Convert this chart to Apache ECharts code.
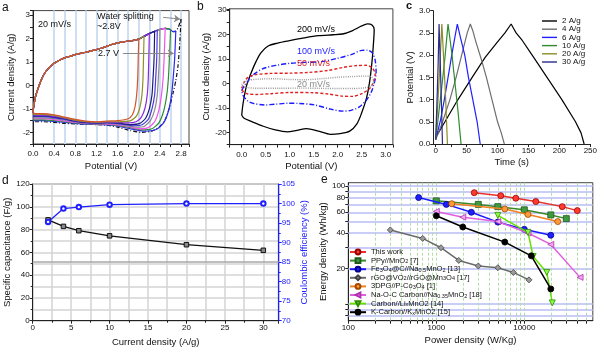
<!DOCTYPE html>
<html><head><meta charset="utf-8">
<script src="https://cdn.jsdelivr.net/npm/echarts@6/dist/echarts.min.js"></script>
<style>html,body{margin:0;padding:0;background:#fff}#c{width:600px;height:349px}</style>
</head><body><div id="c"></div><script>
// ---------- (a) CV at 20 mV/s, increasing upper potential ----------
// shared anodic sweep (all windows overlap here)
const cvUpper = [[0,-1.15],[0.02,-0.8],[0.05,-0.45],[0.1,-0.1],[0.15,0.2],[0.2,0.45],[0.3,0.75],[0.4,0.95],[0.5,1.08],[0.6,1.18],[0.7,1.25],[0.8,1.32],[0.9,1.37],[1.0,1.42],[1.1,1.48],[1.2,1.53],[1.3,1.6],[1.4,1.68],[1.5,1.76],[1.6,1.82],[1.7,1.86],[1.8,1.9],[1.9,1.93],[2.0,1.98],[2.1,2.1],[2.2,2.22],[2.3,2.32],[2.35,2.36],[2.4,2.4],[2.5,2.44],[2.6,2.38],[2.65,2.3],[2.7,2.32],[2.75,2.5],[2.8,2.86]];
// cathodic return sweeps, one per upper potential
const cvRet20 = [[2.0,1.98],[1.99,1.2],[1.98,0.3],[1.96,-0.4],[1.93,-0.9],[1.88,-1.25],[1.8,-1.42],[1.6,-1.5],[1.4,-1.52],[1.2,-1.55],[1.0,-1.52],[0.8,-1.45],[0.6,-1.35],[0.4,-1.25],[0.2,-1.2],[0.05,-1.2],[0,-1.18]];
const cvRet21 = [[2.1,2.1],[2.09,1.2],[2.08,0.3],[2.06,-0.4],[2.02,-0.95],[1.96,-1.3],[1.85,-1.5],[1.6,-1.55],[1.4,-1.55],[1.2,-1.57],[1.0,-1.55],[0.8,-1.48],[0.6,-1.38],[0.4,-1.28],[0.2,-1.23],[0.05,-1.23],[0,-1.22]];
const cvRet22 = [[2.2,2.22],[2.19,1.2],[2.18,0.3],[2.16,-0.4],[2.12,-0.95],[2.05,-1.35],[1.95,-1.55],[1.8,-1.6],[1.6,-1.58],[1.4,-1.57],[1.2,-1.58],[1.0,-1.56],[0.8,-1.5],[0.6,-1.4],[0.4,-1.32],[0.2,-1.27],[0.05,-1.27],[0,-1.26]];
const cvRet23 = [[2.3,2.32],[2.29,1.2],[2.27,0.3],[2.25,-0.4],[2.2,-1.0],[2.13,-1.4],[2.02,-1.62],[1.85,-1.67],[1.6,-1.6],[1.4,-1.58],[1.2,-1.6],[1.0,-1.58],[0.8,-1.52],[0.6,-1.42],[0.4,-1.35],[0.2,-1.3],[0.05,-1.3],[0,-1.3]];
const cvRet235 = [[2.35,2.36],[2.34,1.2],[2.32,0.3],[2.3,-0.4],[2.25,-1.0],[2.18,-1.45],[2.06,-1.68],[1.9,-1.72],[1.7,-1.65],[1.4,-1.6],[1.2,-1.61],[1.0,-1.6],[0.8,-1.54],[0.6,-1.45],[0.4,-1.38],[0.2,-1.33],[0.05,-1.33],[0,-1.33]];
const cvRet24 = [[2.4,2.4],[2.39,1.2],[2.37,0.3],[2.35,-0.4],[2.3,-1.05],[2.22,-1.5],[2.1,-1.75],[1.95,-1.78],[1.7,-1.68],[1.4,-1.62],[1.2,-1.63],[1.0,-1.61],[0.8,-1.56],[0.6,-1.48],[0.4,-1.42],[0.2,-1.38],[0.05,-1.38],[0,-1.38]];
const cvRet25 = [[2.5,2.44],[2.48,1.2],[2.46,0.3],[2.43,-0.4],[2.38,-1.05],[2.3,-1.55],[2.18,-1.8],[2.0,-1.85],[1.8,-1.75],[1.5,-1.66],[1.2,-1.64],[1.0,-1.62],[0.8,-1.58],[0.6,-1.52],[0.4,-1.46],[0.2,-1.42],[0.05,-1.42],[0,-1.42]];
const cvRet26 = [[2.6,2.38],[2.58,1.2],[2.56,0.3],[2.53,-0.4],[2.47,-1.1],[2.38,-1.6],[2.25,-1.85],[2.05,-1.9],[1.8,-1.78],[1.5,-1.68],[1.2,-1.65],[1.0,-1.63],[0.8,-1.6],[0.6,-1.55],[0.4,-1.5],[0.2,-1.47],[0.05,-1.47],[0,-1.47]];
const cvRet27 = [[2.7,2.32],[2.68,1.2],[2.65,0.3],[2.62,-0.4],[2.56,-1.1],[2.47,-1.6],[2.33,-1.88],[2.1,-1.95],[1.85,-1.85],[1.5,-1.7],[1.2,-1.66],[1.0,-1.65],[0.8,-1.62],[0.6,-1.58],[0.4,-1.53],[0.2,-1.5],[0.05,-1.5],[0,-1.5]];
const cvRet28 = [[2.8,2.86],[2.77,1.6],[2.74,0.8],[2.7,0.2],[2.65,-0.3],[2.58,-0.95],[2.5,-1.45],[2.4,-1.75],[2.25,-1.95],[2.05,-2.0],[1.85,-1.93],[1.6,-1.78],[1.4,-1.7],[1.2,-1.67],[1.0,-1.66],[0.8,-1.64],[0.6,-1.62],[0.4,-1.58],[0.2,-1.55],[0.05,-1.55],[0,-1.55]];
const cvEnds = [2.8, 2.7, 2.6, 2.5, 2.4, 2.35, 2.3, 2.2, 2.1, 2.0];
const cvReturns = [cvRet28, cvRet27, cvRet26, cvRet25, cvRet24, cvRet235, cvRet23, cvRet22, cvRet21, cvRet20];
const cvColors = ['#111111', '#2a2af0', '#2e8b2e', '#f050f0', '#8a8a8a', '#4a38e0', '#1a1a78', '#8b2be0', '#8f8f26', '#d4552a'];
const cvGuides = [0.4, 0.6, 0.8, 1.0, 1.2, 1.4, 1.6, 1.8, 2.0, 2.2, 2.4, 2.6, 2.8];

// ---------- (b) CV at different scan rates ----------
const cv200 = [[0,-13],[0.03,-8],[0.1,-1],[0.2,4.5],[0.3,9],[0.4,12.5],[0.55,15.3],[0.75,16.5],[1.0,17.5],[1.3,18.6],[1.6,19.5],[1.9,19.9],[2.1,20.2],[2.3,21.5],[2.5,23.5],[2.62,24.3],[2.72,23.8],[2.76,22],[2.74,15],[2.71,8],[2.66,0],[2.6,-6],[2.5,-12],[2.4,-16.5],[2.25,-19.5],[2.05,-20.5],[1.85,-20.8],[1.6,-19.5],[1.35,-18.5],[1.15,-19.2],[0.95,-19.8],[0.7,-19],[0.45,-17.5],[0.2,-15.5],[0.05,-14.2],[0,-13]];
const cv100 = [[0,-3],[0.05,-1],[0.13,1],[0.27,4],[0.48,6.3],[0.75,7.5],[1.0,8.2],[1.3,8.6],[1.66,8.9],[2.0,10.3],[2.28,11.8],[2.5,13.5],[2.62,13.6],[2.72,12.5],[2.78,9.5],[2.8,4.5],[2.76,0],[2.7,-3.5],[2.6,-6.8],[2.45,-9.6],[2.28,-11],[2.1,-11.3],[1.85,-10.5],[1.52,-8.8],[1.2,-8.2],[0.96,-8.1],[0.7,-8.5],[0.48,-8.8],[0.25,-8.2],[0.13,-7.2],[0.03,-5],[0,-3]];
const cv50 = [[0,-2],[0.05,0.5],[0.13,2.5],[0.3,3.6],[0.6,4.1],[1.0,4.2],[1.4,4.5],[1.8,5.3],[2.1,6.5],[2.4,7.3],[2.6,7.4],[2.72,6.3],[2.78,4],[2.76,1.5],[2.68,-1.8],[2.5,-4.2],[2.3,-5.3],[2.1,-5.2],[1.8,-4.3],[1.5,-3.8],[1.0,-3.7],[0.6,-4.2],[0.3,-4.5],[0.13,-4.3],[0.03,-3.3],[0,-2]];
const cv20 = [[0,-0.5],[0.05,0.6],[0.13,1.3],[0.4,1.8],[0.7,1.9],[1.0,1.6],[1.3,1.5],[1.7,2.0],[2.0,2.5],[2.3,2.8],[2.55,3.0],[2.7,2.7],[2.75,1],[2.7,-1],[2.55,-1.8],[2.3,-2.1],[2.0,-2.1],[1.6,-2.0],[1.2,-1.9],[0.8,-2.0],[0.4,-2.0],[0.15,-1.8],[0.03,-1.3],[0,-0.5]];

// ---------- (c) galvanostatic charge/discharge ----------
const gcd2 = [[0,0.15],[15,0.5],[36,1.0],[59,1.5],[80,1.95],[100,2.3],[112,2.5],[122,2.7],[126,2.6],[130,2.5],[140,2.33],[156,2.0],[180,1.5],[204,1.0],[226,0.5],[235,0.25],[240,0]];
const gcd4 = [[0,0.1],[10,0.45],[23,1.0],[33,1.5],[42,2.0],[51,2.5],[56,2.7],[60,2.55],[65,2.3],[75,1.85],[82,1.5],[91,1.0],[100,0.5],[106,0.25],[111,0]];
const gcd6 = [[0,0.1],[8,0.55],[14,1.0],[20,1.5],[26,2.0],[31,2.4],[35,2.7],[40,2.4],[47,2.0],[53,1.5],[60,1.0],[67,0.5],[72,0]];
const gcd10 = [[0,0.1],[5,0.7],[10,1.3],[15,1.95],[20,2.7],[26,2.05],[31,1.4],[36,0.75],[41,0]];
const gcd20 = [[0,0.1],[3,0.8],[6,1.55],[10,2.7],[13,1.9],[16,1.05],[19,0]];
const gcd30 = [[0,0.1],[2,0.9],[4,1.8],[5.5,2.7],[7.5,1.8],[9.5,0.8],[11,0]];
const gcdNames = ['2 A/g', '4 A/g', '6 A/g', '10 A/g', '20 A/g', '30 A/g'];
const gcdColors = ['#000000', '#6e6e6e', '#1f1fff', '#2e8b2e', '#8c8c28', '#2a2a8c'];

// ---------- (d) rate capability ----------
const rateCurrent = [2, 4, 6, 10, 20, 30];
const rateCapacitance = [88.5, 82.8, 79, 74.5, 66.7, 61.8];
const rateCoulombic = [95.3, 98.7, 99.1, 99.7, 100, 100];

// ---------- (e) Ragone plot ----------
const ragoneNames = ['This work', 'PPy//MnO2 [7]', 'Fe3O4@C//Na0.5MnO2 [13]', 'rGO@VO2//rGO@Mn3O4 [17]', '3DPG//P-Co3O4 [1]', 'Na-O-C Carbon//Na0.35MnO2 [18]', 'Carbon//LixMnO2 [14]', 'K-Carbon//KxMnO2 [15]'];
const ragoneLabels = ['This work', 'PPy//MnO{s|2} [7]', 'Fe{s|3}O{s|4}@C//Na{s|0.5}MnO{s|2} [13]', 'rGO@VO{s|2}//rGO@Mn{s|3}O{s|4} [17]', '3DPG//P-Co{s|3}O{s|4} [1]', 'Na-O-C Carbon//Na{s|0.35}MnO{s|2} [18]', 'Carbon//Li{s|x}MnO2 [14]', 'K-Carbon//K{s|x}MnO2 [15]'];
const rgThisWork = [[2700,88],[5400,83],[8000,79],[13500,74],[27000,67],[40000,62]];
const rgPPy = [[1000,75],[3000,70],[5000,67],[10000,63],[20000,57],[30000,53]];
const rgFe3O4 = [[630,80],[1300,70],[2500,60],[5000,49.5],[10000,43],[20000,38.3]];
const rgRGO = [[300,42.5],[700,36],[1130,30],[1800,23.4],[3000,21],[5000,20.3],[7500,18.5],[11300,16]];
const rg3DPG = [[1500,71],[6000,64],[11000,57.5],[24000,50]];
const rgNaOC = [[1000,61],[2000,54.5],[5000,50],[11000,40],[20000,32],[43000,16.8]];
const rgLiMn = [[5000,56.5],[11000,40.5],[12600,25.3],[18000,18.5],[20800,10.2]];
const rgKMn = [[1000,56],[2000,45],[6000,33.5],[12000,25.6],[20000,13.4]];
const ragoneData = [rgThisWork, rgPPy, rgFe3O4, rgRGO, rg3DPG, rgNaOC, rgLiMn, rgKMn];
const ragoneStyle = [
  {line:'#e8302a', fill:'#ff3b30', edge:'#9a0000', symbol:'circle', rot:0},
  {line:'#3a8a2a', fill:'#3f9a3f', edge:'#1d5a1d', symbol:'rect', rot:0},
  {line:'#1a1aff', fill:'#2020ff', edge:'#00008b', symbol:'circle', rot:0},
  {line:'#6a6a6a', fill:'#9a9a9a', edge:'#404040', symbol:'diamond', rot:0},
  {line:'#f08020', fill:'#ff9a3a', edge:'#a04a00', symbol:'circle', rot:0},
  {line:'#e060e0', fill:'#f0a8f0', edge:'#b030b0', symbol:'triangle', rot:90},
  {line:'#66e000', fill:'#88ff44', edge:'#2f8a00', symbol:'triangle', rot:180},
  {line:'#000000', fill:'#000000', edge:'#000000', symbol:'circle', rot:0}
];
const ragoneHLines = [8, 9, 10, 20, 30, 40, 50, 60, 70, 80, 90, 100];
const ragoneVLines = [200, 300, 400, 500, 600, 700, 800, 900, 1000, 2000, 3000, 4000, 5000, 6000, 7000, 8000, 9000, 10000, 20000, 30000, 40000, 50000];

const FONT = '"Liberation Sans", Arial, Helvetica, sans-serif';
const near = (v, step) => Math.abs(v / step - Math.round(v / step)) < 1e-6;

function axis(extra) {
  const base = {
    type: 'value',
    axisLine: {show: true, onZero: false, lineStyle: {color: '#222', width: 1}},
    axisTick: {show: true, inside: false, length: 3, lineStyle: {color: '#222'}},
    axisLabel: {fontSize: 8, color: '#111', margin: 3, fontFamily: FONT},
    splitLine: {show: false},
    nameLocation: 'middle',
    nameTextStyle: {fontSize: 9.5, color: '#111', fontFamily: FONT}
  };
  const out = Object.assign({}, base, extra);
  ['axisLine', 'axisTick', 'axisLabel', 'nameTextStyle'].forEach(k => {
    if (extra[k]) out[k] = Object.assign({}, base[k], extra[k]);
  });
  return out;
}

const grids = [
  {left: 33, top: 10.6, width: 156, height: 133.4},      // a
  {left: 229.7, top: 8.8, width: 163.2, height: 135.8},  // b
  {left: 433.2, top: 10.7, width: 158.5, height: 133.3}, // c
  {left: 32.7, top: 184, width: 246, height: 136.7},     // d
  {left: 348.3, top: 182.7, width: 244.5, height: 138}   // e
].map((g, i) => Object.assign({show: i !== 2, borderColor: '#444', borderWidth: 1, backgroundColor: 'transparent'}, g));

const xAxes = [
  axis({gridIndex: 0, min: 0, max: 2.95, interval: 0.2, name: 'Potential (V)', nameGap: 17,
        axisLabel: {margin: 6, formatter: v => near(v, 0.4) ? v.toFixed(1) : ''}}),
  axis({gridIndex: 1, min: -0.25, max: 3.15, interval: 0.25, name: 'Potential (V)', nameGap: 17,
        axisLabel: {margin: 6, formatter: v => (v >= 0 && near(v, 0.5)) ? v.toFixed(1) : ''}}),
  axis({gridIndex: 2, min: -4, max: 250, name: 'Time (s)', nameGap: 13,
        axisLabel: {customValues: [0, 50, 100, 150, 200, 250]},
        axisTick: {customValues: [0, 25, 50, 75, 100, 125, 150, 175, 200, 225, 250]}}),
  axis({gridIndex: 3, min: 0, max: 32, interval: 5, name: 'Current density (A/g)', nameGap: 17,
        axisLabel: {formatter: v => near(v, 5) ? String(v) : ''},
        minorTick: {show: true, splitNumber: 2, length: 2, lineStyle: {color: '#222'}},
        splitLine: {show: true, lineStyle: {color: '#d4d4d4', width: 1.5}},
        minorSplitLine: {show: true, lineStyle: {color: '#d4d4d4', width: 1.5}}}),
  axis({gridIndex: 4, type: 'log', logBase: 10, min: 100, max: 60000, name: 'Power density (W/Kg)', nameGap: 15,
        axisLabel: {customValues: [100, 1000, 10000], formatter: v => String(Math.round(v))},
        axisTick: {customValues: [100, 200, 300, 400, 500, 600, 700, 800, 900, 1000, 2000, 3000, 4000, 5000, 6000, 7000, 8000, 9000, 10000, 20000, 30000, 40000, 50000]}})
];

const yAxes = [
  axis({gridIndex: 0, min: -2.5, max: 3.2, interval: 0.5, name: 'Current density (A/g)', nameGap: 17,
        axisLabel: {formatter: v => near(v, 1) ? String(Math.round(v)) : ''}}),
  axis({gridIndex: 1, min: -25, max: 30.5, interval: 5, name: 'Current density (A/g)', nameGap: 15,
        axisLabel: {formatter: v => near(v, 10) ? String(Math.round(v)) : ''}}),
  axis({gridIndex: 2, min: 0, max: 3, interval: 0.5, name: 'Potential (V)', nameGap: 18,
        axisLabel: {formatter: v => v.toFixed(1)}}),
  axis({gridIndex: 3, min: 0, max: 120, interval: 20, name: 'Specific capacitance (F/g)', nameGap: 19,
        minorTick: {show: true, splitNumber: 2, length: 2, lineStyle: {color: '#222'}},
        splitLine: {show: true, lineStyle: {color: '#d4d4d4', width: 1.5}},
        minorSplitLine: {show: true, lineStyle: {color: '#d4d4d4', width: 1.5}}}),
  axis({gridIndex: 3, position: 'right', min: 70, max: 105, interval: 5, name: 'Coulombic efficiency (%)', nameGap: 18, nameRotate: 90,
        axisLine: {lineStyle: {color: '#2020ff', width: 1.2}},
        axisTick: {lineStyle: {color: '#2020ff'}},
        axisLabel: {color: '#2020ff'},
        minorTick: {show: true, splitNumber: 2, length: 2, lineStyle: {color: '#2020ff'}},
        nameTextStyle: {color: '#2020ff'}}),
  axis({gridIndex: 4, type: 'log', logBase: 10, min: 7.2, max: 107, name: 'Energy density (Wh/kg)', nameGap: 19,
        axisLabel: {customValues: [20, 40, 60, 80, 100], formatter: v => String(Math.round(v))},
        axisTick: {customValues: [8, 9, 10, 20, 30, 40, 50, 60, 70, 80, 90, 100]}})
];

const series = [];

// (a) guide lines and CV loops
series.push({
  type: 'line', xAxisIndex: 0, yAxisIndex: 0, data: [], silent: true,
  markLine: {silent: true, z: 1, symbol: ['none', 'none'], label: {show: false},
    lineStyle: {color: '#cfdff3', width: 2, type: 'solid'},
    data: cvGuides.map(v => ({xAxis: v}))}
});
cvEnds.forEach((end, i) => {
  const up = cvUpper.filter(p => p[0] < end - 1e-9);
  series.push({
    type: 'line', name: 'CV ' + end + ' V', xAxisIndex: 0, yAxisIndex: 0,
    data: up.concat(cvReturns[i]), showSymbol: false, symbol: 'none', smooth: 0.2,
    lineStyle: {color: cvColors[i], width: 1.2, type: i === 0 ? [4, 2, 1, 2] : 'solid'},
    z: 2 + i,
    markLine: i === 0 ? {silent: true, z: 20, symbol: ['none', 'arrow'], symbolSize: 6, label: {show: false},
      lineStyle: {color: '#8a8a8a', width: 1, type: 'solid'},
      data: [[{coord: [2.46, 2.91]}, {coord: [2.78, 2.84]}], [{coord: [1.7, 1.38]}, {coord: [2.66, 1.38]}]]} : undefined
  });
});

// (b)
[[cv200, '#000000', 'solid', 1.3, '200 mV/s'], [cv100, '#1a1aff', [5, 2, 1, 2], 1.4, '100 mV/s'],
 [cv50, '#e02020', [3, 2], 1.4, '50 mV/s'], [cv20, '#9a9a9a', [1, 1.2], 1.4, '20 mV/s']].forEach(s => {
  series.push({type: 'line', name: s[4], xAxisIndex: 1, yAxisIndex: 1, data: s[0], showSymbol: false, symbol: 'none', smooth: 0.3,
    lineStyle: {color: s[1], type: s[2], width: s[3]}});
});

// (c)
[gcd2, gcd4, gcd6, gcd10, gcd20, gcd30].forEach((d, i) => {
  series.push({type: 'line', name: gcdNames[i], xAxisIndex: 2, yAxisIndex: 2, data: d, showSymbol: false, symbol: 'none',
    lineStyle: {color: gcdColors[i], width: 1.2}, itemStyle: {color: gcdColors[i]}});
});

// (d)
series.push({type: 'line', name: 'Specific capacitance', xAxisIndex: 3, yAxisIndex: 3,
  data: rateCurrent.map((c, i) => [c, rateCapacitance[i]]), symbol: 'rect', symbolSize: 4.5,
  lineStyle: {color: '#111', width: 1.3}, itemStyle: {color: '#8a8a8a', borderColor: '#111', borderWidth: 1}});
series.push({type: 'line', name: 'Coulombic efficiency', xAxisIndex: 3, yAxisIndex: 4,
  data: rateCurrent.map((c, i) => [c, rateCoulombic[i]]), symbol: 'emptyCircle', symbolSize: 4.5,
  lineStyle: {color: '#2020ff', width: 1.3}, itemStyle: {color: '#2020ff', borderColor: '#2020ff', borderWidth: 1},
  markLine: {silent: true, z: 1, symbol: ['none', 'none'], label: {show: false},
    lineStyle: {color: '#a8a8a8', width: 1.5, type: 'solid'}, data: [{yAxis: 85}]}});

// (e) grid lines, then data
series.push({type: 'line', xAxisIndex: 4, yAxisIndex: 5, data: [], silent: true,
  markLine: {silent: true, z: 1, symbol: ['none', 'none'], label: {show: false},
    data: ragoneHLines.map(v => ({yAxis: v, lineStyle: {color: '#b8bcf4', width: 1.5, type: 'solid'}}))
      .concat(ragoneVLines.map(v => ({xAxis: v, lineStyle: {color: '#b5dca8', width: 1, type: [3, 2]}})))}});
ragoneData.forEach((d, i) => {
  const st = ragoneStyle[i];
  series.push({type: 'line', name: ragoneNames[i], xAxisIndex: 4, yAxisIndex: 5, data: d,
    symbol: st.symbol, symbolRotate: st.rot, symbolSize: 6,
    lineStyle: {color: st.line, width: 1.5},
    itemStyle: {color: st.fill, borderColor: st.edge, borderWidth: 0.8}, z: 3 + i});
});

const txt = (text, left, top, size, color, extra) => ({type: 'text', left, top, silent: true, z: 100,
  style: Object.assign({text, fontSize: size, fill: color || '#111', fontFamily: FONT}, extra || {})});

const option = {
  animation: false,
  backgroundColor: '#ffffff',
  textStyle: {fontFamily: FONT},
  grid: grids,
  xAxis: xAxes,
  yAxis: yAxes,
  legend: [
    {id: 'gcdLegend', data: gcdNames, orient: 'vertical', left: 542, top: 17, padding: 0, itemWidth: 15, itemHeight: 1.4, itemGap: 0.2,
     icon: 'rect', textStyle: {fontSize: 8, lineHeight: 8, color: '#111', fontFamily: FONT},
     selectedMode: false},
    {id: 'ragoneLegend', data: ragoneNames, orient: 'vertical', left: 349, top: 248, padding: 0, itemWidth: 16, itemHeight: 6, itemGap: 0.6,
     textStyle: {fontSize: 7.5, lineHeight: 8, color: '#111', fontFamily: FONT,
       rich: {s: {fontSize: 5.5, verticalAlign: 'bottom', lineHeight: 8, fontFamily: FONT, color: '#111'}}},
     formatter: name => ragoneLabels[ragoneNames.indexOf(name)], selectedMode: false}
  ],
  graphic: [
    txt('a', 2, 2, 12), txt('b', 197, 1, 12), txt('c', 406, 0, 11, '#111', {fontWeight: 'bold'}),
    txt('d', 2, 175, 12), txt('e', 321, 174, 12),
    txt('20 mV/s', 38, 20, 9), txt('Water splitting', 97, 12, 9), txt('~2.8V', 97, 22, 9), txt('2.7 V', 98, 49, 9),
    txt('200 mV/s', 297, 25, 9, '#000'), txt('100 mV/s', 297, 47, 9, '#1a1aff'),
    txt('50 mV/s', 297, 59, 9, '#e02020'), txt('20 mV/s', 297, 80.5, 9, '#8a8a8a')
  ],
  series
};

const chart = echarts.init(document.getElementById('c'), null, {renderer: 'canvas'});
chart.setOption(option);
</script></body></html>
